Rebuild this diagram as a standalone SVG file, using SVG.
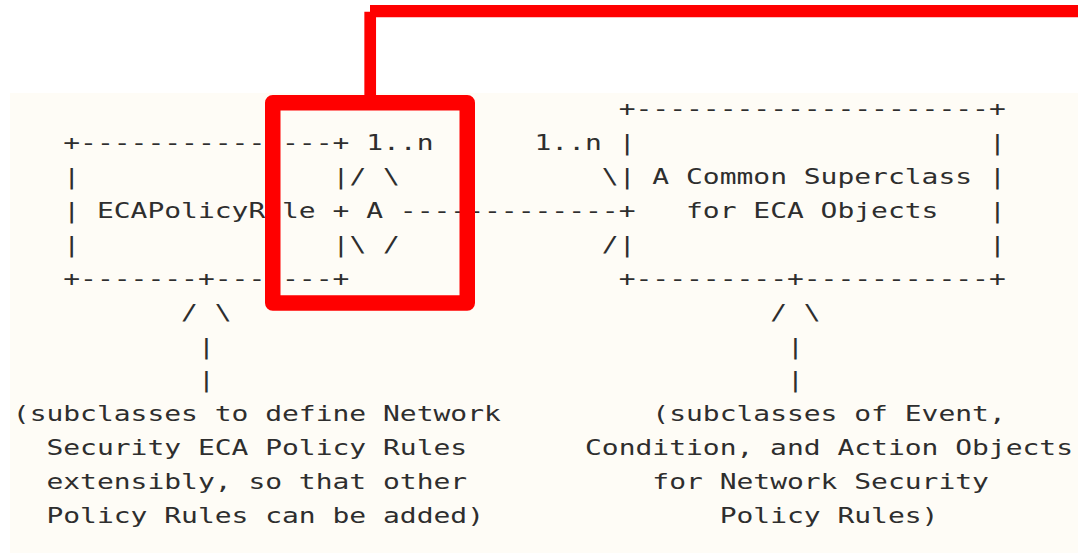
<svg xmlns="http://www.w3.org/2000/svg" width="1078" height="555" viewBox="0 0 1078 555">
  <style>
    .t { font-family: "DejaVu Sans Mono", "Liberation Mono", monospace; font-size: 21px; fill: #2e2e2e; white-space: pre; }
    .hl { fill: none; stroke: #ff0000; }
  </style>
  <rect width="1078" height="555" fill="#ffffff"/>
  <!-- page area holding the figure -->
  <rect x="10" y="93" width="1068" height="460" fill="#fefcf6"/>

  <!-- monospace grid: one column = 12.643 local units, stretched to 16.83 px -->
  <g transform="translate(12.8 0) scale(1.3312 1)" class="t" xml:space="preserve">
    <g id="node-eca-policy-rule">
      <text class="t" x="37.93" y="150.2">+---------------+</text>
      <text class="t" x="37.93" y="184.1">|               |</text>
      <text class="t" x="37.93" y="218.0">| ECAPolicyRule +</text>
      <text class="t" x="37.93" y="251.9">|               |</text>
      <text class="t" x="37.93" y="285.8">+-------+-------+</text>
    </g>
    <g id="node-eca-superclass">
      <text class="t" x="455.15" y="116.3">+---------------------+</text>
      <text class="t" x="455.15" y="150.2">|                     |</text>
      <text class="t" x="455.15" y="184.1">| A Common Superclass |</text>
      <text class="t" x="455.15" y="218.0">+   for ECA Objects   |</text>
      <text class="t" x="455.15" y="251.9">|                     |</text>
      <text class="t" x="455.15" y="285.8">+---------+-----------+</text>
    </g>
    <g id="note-policy-rule-subclasses">
      <text class="t" x="0" y="421.4">(subclasses to define Network</text>
      <text class="t" x="25.29" y="455.3">Security ECA Policy Rules</text>
      <text class="t" x="25.29" y="489.2">extensibly, so that other</text>
      <text class="t" x="25.29" y="523.1">Policy Rules can be added)</text>
    </g>
    <g id="note-eca-object-subclasses">
      <text class="t" x="480.43" y="421.4">(subclasses of Event,</text>
      <text class="t" x="429.86" y="455.3">Condition, and Action Objects</text>
      <text class="t" x="480.43" y="489.2">for Network Security</text>
      <text class="t" x="531.0" y="523.1">Policy Rules)</text>
    </g>
    <g id="connectors">
      <!-- aggregation with multiplicities -->
      <text class="t" x="265.50" y="150.2">1..n</text>
      <text class="t" x="391.93" y="150.2">1..n</text>
      <text class="t" x="252.86" y="184.1">/ \</text>
      <text class="t" x="265.50" y="218.0">A -------------</text>
      <text class="t" x="252.86" y="251.9">\ /</text>
      <text class="t" x="442.50" y="184.1">\</text>
      <text class="t" x="442.50" y="251.9">/</text>
      <!-- inheritance, left -->
      <text class="t" x="126.43" y="319.7">/ \</text>
      <text class="t" x="139.07" y="353.6">|</text>
      <text class="t" x="139.07" y="387.5">|</text>
      <!-- inheritance, right -->
      <text class="t" x="568.93" y="319.7">/ \</text>
      <text class="t" x="581.58" y="353.6">|</text>
      <text class="t" x="581.58" y="387.5">|</text>
    </g>
  </g>

  <!-- red highlight callout -->
  <g id="callout">
    <rect class="hl" x="272.75" y="102.75" width="194.5" height="200.2" stroke-width="15.5" stroke-linejoin="round"/>
    <line class="hl" x1="370.2" y1="11.7" x2="370.2" y2="100" stroke-width="11.7"/>
    <line class="hl" x1="370" y1="11.2" x2="1078" y2="11.2" stroke-width="12.3"/>
  </g>
</svg>
